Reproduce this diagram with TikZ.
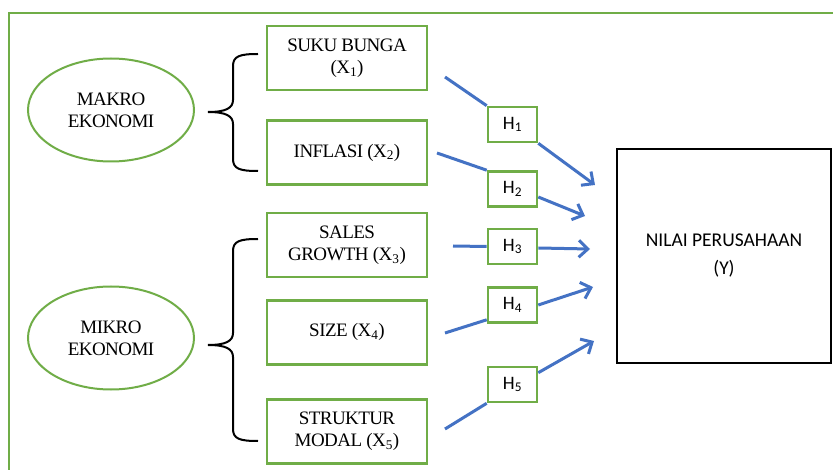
\documentclass[tikz,border=0pt]{standalone}
\usepackage{fontspec}
\setmainfont{Liberation Serif}[LetterSpace=-3]
\newfontfamily\calib{Carlito}
\usetikzlibrary{shapes.geometric,arrows.meta,calc}
\definecolor{ogreen}{RGB}{112,173,71}
\definecolor{oblue}{RGB}{68,114,196}
\begin{document}
\begin{tikzpicture}[x=1pt,y=-1pt,
  xbox/.style={draw=ogreen,line width=2.6pt,minimum width=160pt,minimum height=64pt,align=center,font=\fontsize{19}{22}\selectfont,inner sep=0pt},
  hbox/.style={draw=ogreen,line width=2.6pt,minimum width=49pt,minimum height=35pt,font=\calib\fontsize{19}{20}\selectfont,inner sep=0pt},
  oval/.style={ellipse,draw=ogreen,line width=2pt,minimum width=166pt,minimum height=103pt,align=center,font=\fontsize{19}{22}\selectfont,inner sep=0pt},
  link/.style={draw=oblue,line width=3pt},
  arr/.style={link,-{Straight Barb[length=9pt,width=17pt,line width=3pt]}},
  brace/.style={draw=black,line width=2pt}]
\useasboundingbox (0,0) rectangle (833,470);
\fill[white] (0,0) rectangle (833,470);
\clip (0,0) rectangle (833,470);
\draw[ogreen,line width=2.2pt] (9,13) rectangle (860,500);
% ellipses
\node[oval] (makro) at (111,110) {MAKRO\\EKONOMI};
\node[oval] (mikro) at (111,338) {MIKRO\\EKONOMI};
% boxes
\node[xbox] (x1) at (347,58) {SUKU BUNGA\\(X\textsubscript{1})};
\node[xbox] (x2) at (347,152.5) {\raisebox{4pt}{INFLASI (X\textsubscript{2})}};
\node[xbox] (x3) at (347,245) {SALES\\GROWTH (X\textsubscript{3})};
\node[xbox] (x4) at (347,332.5) {\raisebox{5pt}{SIZE (X\textsubscript{4})}};
\node[xbox] (x5) at (347,431.5) {STRUKTUR\\MODAL (X\textsubscript{5})};
% H boxes
\node[hbox] (h1) at (512.5,124.5) {H\textsubscript{1}};
\node[hbox] (h2) at (512.5,189) {H\textsubscript{2}};
\node[hbox] (h3) at (512.5,246.5) {H\textsubscript{3}};
\node[hbox] (h4) at (512.5,305) {H\textsubscript{4}};
\node[hbox] (h5) at (512.5,384.5) {H\textsubscript{5}};
% Y box
\node[draw=black,line width=2.4pt,minimum width=214pt,minimum height=214pt,align=center,font=\calib\fontsize{19.5}{28}\selectfont] (y) at (724,256) {NILAI PERUSAHAAN\\(Y)};
% braces
\coordinate (b1a) at (258,54);
\coordinate (b1t) at (208,112);
\coordinate (b1b) at (258,171);
\draw[brace] (b1a) .. controls (240,54) and (233,56) .. (233,66) -- (233,100) .. controls (233,108) and (226,112) .. (b1t) .. controls (226,112) and (233,116) .. (233,124) -- (233,159) .. controls (233,169) and (240,171) .. (b1b);
\coordinate (b2a) at (258,239);
\coordinate (b2t) at (208,345);
\coordinate (b2b) at (258,441);
\draw[brace] (b2a) .. controls (240,239) and (233,241) .. (233,251) -- (233,333) .. controls (233,341) and (226,345) .. (b2t) .. controls (226,345) and (233,349) .. (233,357) -- (233,429) .. controls (233,439) and (240,441) .. (b2b);
% connector ends
\coordinate (s1) at (445,77);
\coordinate (s2) at (437,153);
\coordinate (s3) at (453,246);
\coordinate (s4) at (445,333);
\coordinate (s5) at (445,429);
\coordinate (t1) at (595,185);
\coordinate (t2) at (585,216);
\coordinate (t3) at (590,249);
\coordinate (t4) at (593,287);
\coordinate (t5) at (594,341);
\draw[link] (s1) -- (h1.north west);
\draw[arr] (h1.south east) -- (t1);
\draw[link] (s2) -- (h2.north west);
\draw[arr] ($(h2.east)+(0,8)$) -- (t2);
\draw[link] (s3) -- (h3.west);
\draw[arr] ($(h3.east)+(0,1.5)$) -- (t3);
\draw[link] (s4) -- ($(h4.south west)+(0,-4)$);
\draw[arr] (h4.east) -- (t4);
\draw[link] (s5) -- (h5.south west);
\draw[arr] ($(h5.north east)+(0,7)$) -- (t5);
\end{tikzpicture}
\end{document}
